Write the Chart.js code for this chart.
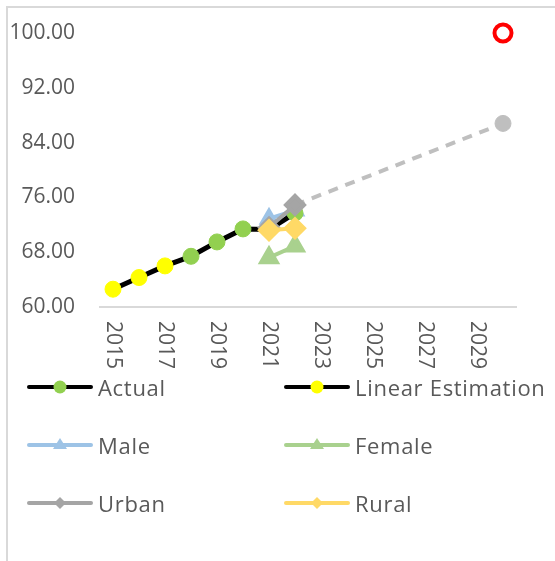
<!DOCTYPE html>
<html>
<head>
<meta charset="utf-8">
<script src="https://cdn.jsdelivr.net/npm/chart.js@4"></script>
<style>
  html, body { margin: 0; padding: 0; background: #fff; }
  #wrap { position: relative; width: 555px; height: 561px; overflow: hidden; }
  #frame { position: absolute; left: 6px; top: 6px; width: 560px; height: 570px;
           border-left: 2px solid #d9d9d9; border-top: 2px solid #d9d9d9; box-sizing: border-box; }
  canvas { position: absolute; left: 0; top: 0; }
  #legend { position: absolute; left: 0; top: 0; width: 555px; height: 561px; pointer-events: none;
            font-family: "Open Sans", sans-serif; font-size: 22px; letter-spacing: 0.7px; color: #595959; }
  .item { position: absolute; height: 24px; display: flex; align-items: center; white-space: nowrap; }
  .item canvas { position: static; margin-right: 5px; }
</style>
</head>
<body>
<div id="wrap">
  <div id="frame"></div>
  <canvas id="chart" width="555" height="561"></canvas>
  <div id="legend"></div>
</div>
<script>
document.addEventListener('DOMContentLoaded', () => {
    // categories
    const years = ['2015','2016','2017','2018','2019','2020','2021','2022',
                   '2023','2024','2025','2026','2027','2028','2029','2030'];
    const yTicks = [60, 68, 76, 84, 92, 100];

    // series values (null = no point that year)
    const linearEstimation = [62.6, 64.3, 66.0, 67.4, null, null, null, null, null, null, null, null, null, null, null, null];
    const actual = [null, null, null, 67.4, 69.5, 71.4, 71.3, 73.7, null, null, null, null, null, null, null, null];
    const male = [null, null, null, null, null, null, 72.9, 74.1, null, null, null, null, null, null, null, null];
    const female = [null, null, null, null, null, null, 67.2, 68.9, null, null, null, null, null, null, null, null];
    const urban = [null, null, null, null, null, null, 71.6, 74.9, null, null, null, null, null, null, null, null];
    const rural = [null, null, null, null, null, null, 71.2, 71.5, null, null, null, null, null, null, null, null];
    const forecast = [null, null, null, null, null, null, null, 74.9, null, null, null, null, null, null, null, 86.8];
    const target = [null, null, null, null, null, null, null, null, null, null, null, null, null, null, null, 100];

    const textColor = '#595959';
    const fontFamily = '"Open Sans", sans-serif';

    // x labels are drawn top-to-bottom like the Excel original
    const verticalLabels = {
        id: 'verticalLabels',
        afterDraw(chart) {
            const ctx = chart.ctx;
            const xScale = chart.scales.x;
            ctx.save();
            ctx.fillStyle = textColor;
            ctx.font = '21px ' + fontFamily;
            ctx.textAlign = 'left';
            ctx.textBaseline = 'middle';
            years.forEach((y, i) => {
                if (i % 2 !== 0 || i > 14) return;
                const x = xScale.getPixelForValue(i);
                ctx.save();
                ctx.translate(x, chart.chartArea.bottom + 14);
                ctx.rotate(Math.PI / 2);
                ctx.fillText(y, 0, 0);
                ctx.restore();
            });
            ctx.restore();
        }
    };

    const ctx = document.getElementById('chart').getContext('2d');
    const chart = new Chart(ctx, {
        type: 'line',
        data: {
            labels: years,
            datasets: [
                {
                    label: 'Rural', data: rural, order: 1,
                    borderColor: '#ffd966', backgroundColor: '#ffd966', borderWidth: 4,
                    pointStyle: 'rectRot', pointRadius: 9, pointHoverRadius: 9
                },
                {
                    label: 'Urban', data: urban, order: 2,
                    borderColor: '#a5a5a5', backgroundColor: '#a5a5a5', borderWidth: 4,
                    pointStyle: 'rectRot', pointRadius: 9, pointHoverRadius: 9
                },
                {
                    label: 'Female', data: female, order: 3,
                    borderColor: '#a9d18e', backgroundColor: '#a9d18e', borderWidth: 4,
                    pointStyle: 'triangle', pointRadius: 9, pointHoverRadius: 9
                },
                {
                    label: 'Male', data: male, order: 5,
                    borderColor: '#9dc3e6', backgroundColor: '#9dc3e6', borderWidth: 4,
                    pointStyle: 'triangle', pointRadius: 8, pointHoverRadius: 8
                },
                {
                    label: 'Actual', data: actual, order: 4,
                    borderColor: '#000000', backgroundColor: '#92d050', borderWidth: 5,
                    pointBorderColor: '#92d050', pointBorderWidth: 1, pointRadius: 8, pointHoverRadius: 8
                },
                {
                    label: 'Linear Estimation', data: linearEstimation, order: 6,
                    borderColor: '#000000', backgroundColor: '#ffff00', borderWidth: 5,
                    pointBorderColor: '#ffff00', pointBorderWidth: 1, pointRadius: [8, 8, 8, 0], pointHoverRadius: 8
                },
                {
                    label: 'Forecast', data: forecast, order: 7, spanGaps: true,
                    borderColor: '#bfbfbf', backgroundColor: '#bfbfbf', borderWidth: 4,
                    borderDash: [10, 8], pointBorderColor: '#bfbfbf', pointBorderWidth: 1,
                    pointRadius: ctx => ctx.dataIndex === 15 ? 8 : 0
                },
                {
                    label: 'Target', data: target, order: 0, showLine: false, clip: false,
                    borderColor: '#ff0000', backgroundColor: '#ffffff', borderWidth: 4,
                    pointRadius: 8.5, pointHoverRadius: 8.5
                }
            ]
        },
        options: {
            responsive: false,
            animation: false,
            layout: { padding: { top: 33, right: 39, left: 0, bottom: 0 } },
            plugins: {
                legend: { display: false },
                tooltip: { enabled: false }
            },
            scales: {
                x: {
                    offset: true,
                    grid: { display: false },
                    border: { display: true, color: '#d9d9d9', width: 2 },
                    ticks: { display: false },
                    afterFit: scale => { scale.height = 254; }
                },
                y: {
                    min: 60, max: 100,
                    afterBuildTicks: scale => { scale.ticks = yTicks.map(v => ({ value: v })); },
                    grid: { display: false },
                    border: { display: false },
                    ticks: {
                        padding: 17,
                        color: textColor,
                        font: { family: fontFamily, size: 21 },
                        callback: v => Number(v).toFixed(2)
                    },
                    afterFit: scale => { scale.width = 100; }
                }
            }
        },
        plugins: [verticalLabels]
    });

    // Legend: two columns, three rows, built from the datasets
    const legendOrder = ['Actual', 'Linear Estimation', 'Male', 'Female', 'Urban', 'Rural'];
    const legend = document.getElementById('legend');
    legendOrder.forEach((name, i) => {
        const ds = chart.data.datasets.find(d => d.label === name);
        const item = document.createElement('div');
        item.className = 'item';
        item.style.left = (i % 2 === 0 ? 27 : 284) + 'px';
        item.style.top = (387 + Math.floor(i / 2) * 58 - 12) + 'px';
        const c = document.createElement('canvas');
        c.width = 66; c.height = 24;
        const g = c.getContext('2d');
        g.strokeStyle = ds.borderColor;
        g.lineWidth = 4;
        g.lineCap = 'round';
        g.beginPath(); g.moveTo(2, 12); g.lineTo(64, 12); g.stroke();
        g.fillStyle = ds.backgroundColor;
        if (ds.pointStyle === 'triangle') {
            g.beginPath(); g.moveTo(33, 5); g.lineTo(40, 16); g.lineTo(26, 16); g.closePath(); g.fill();
        } else if (ds.pointStyle === 'rectRot') {
            g.beginPath(); g.moveTo(33, 6); g.lineTo(39, 12); g.lineTo(33, 18); g.lineTo(27, 12); g.closePath(); g.fill();
        } else {
            g.beginPath(); g.arc(33, 12, 6.5, 0, Math.PI * 2); g.fill();
        }
        const span = document.createElement('span');
        span.textContent = name;
        item.appendChild(c);
        item.appendChild(span);
        legend.appendChild(item);
    });
});
</script>
</body>
</html>
